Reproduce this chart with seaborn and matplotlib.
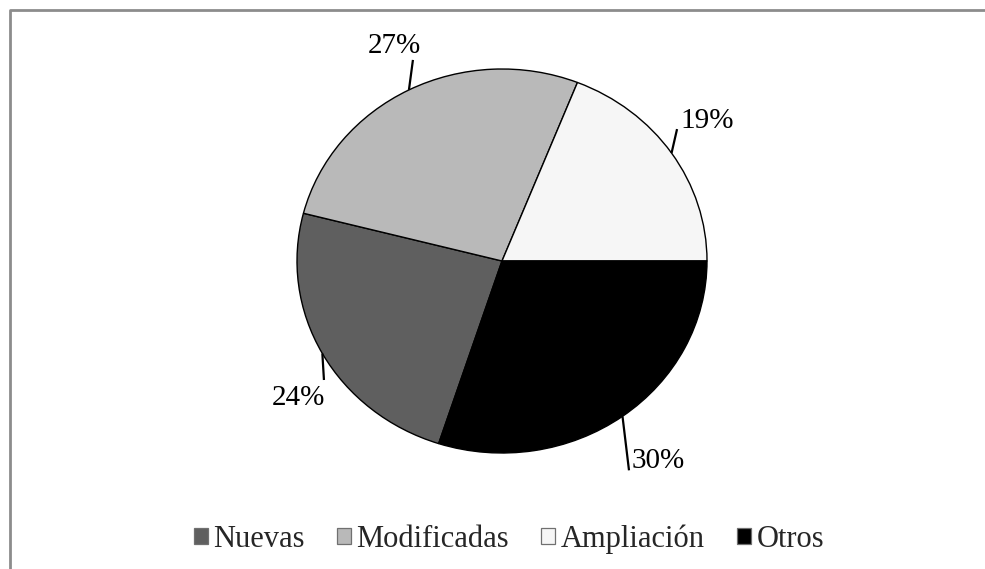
import numpy as np
import matplotlib
matplotlib.use("Agg")
import matplotlib.pyplot as plt
import seaborn as sns
from matplotlib.patches import Patch
from matplotlib.lines import Line2D

categorias = ["Nuevas", "Modificadas", "Ampliación", "Otros"]
porcentajes = [24, 27, 19, 30]
colores = ["#5f5f5f", "#b9b9b9", "#f6f6f6", "#000000"]

# leader line end and label baseline, as pixel offsets from the wedge edge point
linea_off = [(1.6, -26.5), (4, 30), (5.5, 24), (6.5, -54)]
texto_off = [(-23.5, -51.5), (-15, 37), (36, 25), (35.5, -52)]

sns.set_theme(style="white")
plt.rcParams["font.family"] = ["Liberation Serif", "DejaVu Serif"]

W, H = 985, 569
RX, RY = 205.0, 192.0   # the pie is slightly squashed vertically
fig = plt.figure(figsize=(W / 100, H / 100), dpi=100)
ax = fig.add_axes([202 / W, 58 / H, 600 / W, 500 / H])

wedges, _ = ax.pie(porcentajes, colors=colores, startangle=252, counterclock=False,
                   wedgeprops=dict(edgecolor="black", linewidth=1.0))
ax.set_aspect("auto")
ax.set_xlim(-300 / RX, 300 / RX)
ax.set_ylim(-250 / RY, 250 / RY)
ax.axis("off")

for w, p, lo, to in zip(wedges, porcentajes, linea_off, texto_off):
    ang = np.deg2rad((w.theta1 + w.theta2) / 2)
    x0, y0 = np.cos(ang), np.sin(ang)
    ax.plot([x0, x0 + lo[0] / RX], [y0, y0 + lo[1] / RY], color="black",
            lw=1.6, solid_capstyle="butt")
    ax.text(x0 + to[0] / RX, y0 + to[1] / RY, f"{p}%", fontsize=21,
            ha="center", va="baseline", color="black")

handles = [Patch(facecolor=c, edgecolor="#707070", linewidth=0.9) for c in colores]
fig.legend(handles, categorias, loc="center", bbox_to_anchor=(509 / W, 1 - 539 / H),
           ncol=4, frameon=False, fontsize=22, handlelength=0.46, handleheight=0.46,
           handletextpad=0.18, columnspacing=1.05, borderaxespad=0, borderpad=0)

# grey frame (top and left edges visible)
fig.add_artist(Line2D([9.5 / W, 9.5 / W, 1], [0, 1 - 10 / H, 1 - 10 / H],
                      transform=fig.transFigure, color="#8c8c8c", lw=2.0))

fig.savefig("out.png", dpi=100)
